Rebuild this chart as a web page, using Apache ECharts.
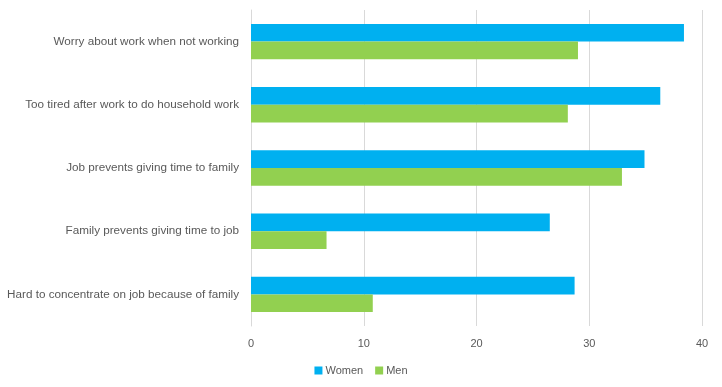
<!DOCTYPE html>
<html><head><meta charset="utf-8">
<script src="https://cdn.jsdelivr.net/npm/echarts@6/dist/echarts.min.js"></script>
<style>html,body{margin:0;padding:0;background:#fff}#c{width:722px;height:387px}</style>
</head><body><div id="c"></div>
<script>
var categories = ["Worry about work when not working","Too tired after work to do household work","Job prevents giving time to family","Family prevents giving time to job","Hard to concentrate on job because of family"];
var women = [38.4, 36.3, 34.9, 26.5, 28.7];
var men = [29.0, 28.1, 32.9, 6.7, 10.8];
var xTicks = [0, 10, 20, 30, 40];

var chart = echarts.init(document.getElementById('c'));
var font = "Liberation Sans, Arial, sans-serif";
chart.setOption({
  animation: false,
  grid: {left: 251, right: 20, top: 10, bottom: 61, containLabel: false},
  legend: {
    data: ['Women', 'Men'], bottom: 6, left: 'center',
    itemWidth: 8, itemHeight: 8, itemGap: 12, icon: 'rect',
    textStyle: {color: '#595959', fontSize: 11, fontFamily: font, padding: [0,0,0,-2]}
  },
  xAxis: {
    type: 'value', min: 0, max: 40, interval: 10,
    axisLine: {show: false}, axisTick: {show: false},
    axisLabel: {color: '#595959', fontSize: 11, fontFamily: font, margin: 12},
    splitLine: {lineStyle: {color: '#d9d9d9', width: 1}}
  },
  yAxis: {
    type: 'category', data: categories, inverse: true,
    axisLine: {show: true, lineStyle: {color: '#d9d9d9'}}, axisTick: {show: false},
    axisLabel: {color: '#595959', fontSize: 11.7, fontFamily: font, margin: 12}
  },
  series: [
    {name: 'Women', type: 'bar', data: women, itemStyle: {color: '#00B0F0'}, barGap: '0%', barCategoryGap: '44%'},
    {name: 'Men', type: 'bar', data: men, itemStyle: {color: '#92D050'}, barGap: '0%', barCategoryGap: '44%'}
  ]
});
</script></body></html>
